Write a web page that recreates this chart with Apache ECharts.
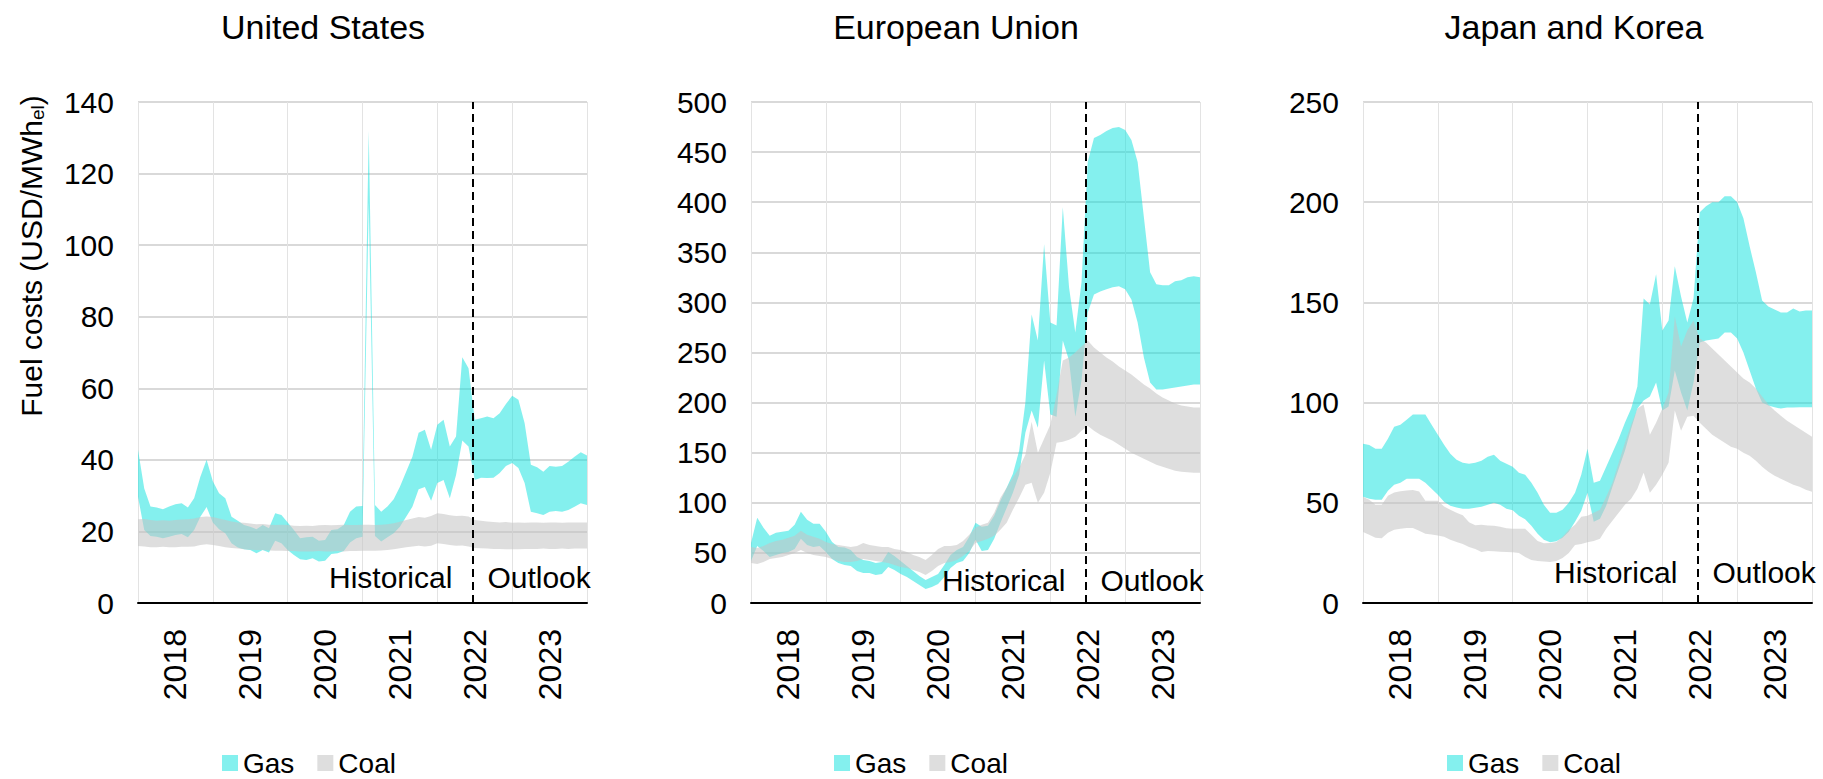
<!DOCTYPE html>
<html>
<head>
<meta charset="utf-8">
<title>Fuel costs</title>
<script src="https://cdn.jsdelivr.net/npm/echarts@6/dist/echarts.min.js"></script>
<style>
html, body { margin: 0; padding: 0; background: #fff; }
#chartDiv { width: 1823px; height: 779px; }
</style>
</head>
<body>
<div id="chartDiv"></div>
<script>
// monthly values, Jan 2018 .. Jan 2024 (73 points), USD/MWh(el)
var years = ['2018', '2019', '2020', '2021', '2022', '2023'];

var usGasHigh = [42.8, 32, 27, 26.7, 26.2, 27, 27.6, 27.9, 26.7, 29.3,
    35.3, 40, 34, 30.7, 29.3, 24.1, 23, 21.8, 21.3, 20.6,
    21.8, 20.9, 25.1, 24.6, 22.5, 20.4, 18.1, 18.4, 18.5, 17.4,
    17.6, 20.4, 20.6, 21.8, 25.5, 27, 27.1, 132, 27.4, 25.5,
    27, 29, 32.5, 36.7, 40.9, 47.6, 48.4, 42.8, 49.8, 51.2,
    43.7, 46.5, 68.7, 65.6, 51.2, 51.6, 52.1, 51.6, 53, 55.6,
    57.9, 56.8, 50.2, 38.6, 37.9, 36.7, 38.3, 38.1, 38.3, 39.5,
    40.9, 42.1, 41.2];
var usGasLow = [29.7, 20.4, 18.7, 18.5, 18.1, 18.5, 19, 19.3, 18.4, 20.4,
    24.1, 26.8, 22.5, 20.6, 19.5, 16.7, 15.5, 15, 14.8, 13.9,
    14.8, 14.1, 17.4, 16.7, 14.8, 13.4, 12.2, 12, 12.5, 11.6,
    11.8, 13.7, 13.9, 14.5, 16.9, 18.1, 18.5, 112, 18.7, 17.2,
    18.4, 19.5, 21.3, 24.1, 26.9, 31.8, 32.4, 28.6, 33.5, 34.4,
    29.3, 35.8, 45.4, 43.7, 34.4, 35, 34.9, 35, 36.3, 38.3,
    39.1, 37.7, 33.5, 25.5, 25.1, 24.6, 25.5, 25.7, 25.5, 26,
    26.9, 27.9, 27.4];
var usCoalHigh = [23.4, 23.5, 23.2, 23.0, 23.1, 23.0, 23.2, 23.3, 23.4, 23.6,
    24.0, 24.2, 24.0, 23.6, 23.2, 22.8, 22.5, 22.4, 22.2, 22.0,
    22.1, 21.9, 21.8, 21.9, 21.8, 21.6, 21.5, 21.6, 21.5, 21.7,
    21.8, 21.7, 21.8, 21.9, 21.8, 21.8, 21.9, 21.9, 21.8, 21.9,
    22.0, 22.3, 22.7, 23.2, 23.6, 24.0, 23.8, 24.3, 25.1, 24.9,
    24.5, 24.3, 24.4, 24.2, 23.2, 23.0, 22.8, 22.6, 22.5, 22.6,
    22.4, 22.5, 22.4, 22.5, 22.5, 22.4, 22.5, 22.5, 22.4, 22.5,
    22.5, 22.5, 22.5];
var usCoalLow = [15.9, 15.8, 15.6, 15.6, 15.7, 15.6, 15.6, 15.7, 15.7, 15.8,
    16.2, 16.4, 16.2, 15.9, 15.6, 15.4, 15.2, 15.0, 14.9, 14.8,
    14.8, 14.7, 14.6, 14.6, 14.5, 14.5, 14.4, 14.4, 14.4, 14.5,
    14.4, 14.4, 14.5, 14.4, 14.5, 14.5, 14.6, 14.6, 14.6, 14.7,
    14.8, 15.0, 15.3, 15.6, 15.8, 16.0, 15.8, 16.0, 16.7, 16.5,
    16.2, 16.0, 16.1, 15.8, 15.4, 15.3, 15.2, 15.1, 15.1, 15.0,
    15.0, 15.0, 15.1, 15.1, 15.1, 15.2, 15.1, 15.1, 15.2, 15.1,
    15.2, 15.2, 15.2];

var euGasHigh = [60, 85, 75, 67, 70, 71, 72, 78, 91, 83,
    79, 79, 71, 61, 56, 55.5, 53, 46, 43, 42,
    40, 41, 51, 47, 42, 37, 32, 27, 23, 26,
    29, 38, 48, 53, 56, 66, 80, 76, 77, 87,
    102, 115, 129, 152, 200, 288, 262, 358, 280, 277,
    395, 315, 270, 320, 440, 464, 467, 471, 474, 475,
    472, 462, 440, 385, 330, 318, 317, 317, 321, 322,
    325, 326, 325];
var euGasLow = [42, 57, 52, 46, 48, 50, 51, 54, 64, 58,
    56, 57, 51, 44, 40, 38, 37, 32, 30, 30,
    28, 29, 36, 33, 29, 26, 22, 18, 14, 16,
    19, 26, 35, 40, 42, 50, 63, 52, 53, 64,
    80, 95, 110, 128, 170, 192, 175, 242, 188, 186,
    262, 242, 186, 222, 290, 308, 311, 313, 315, 316,
    313, 303, 280, 245, 220, 213, 213, 214, 215, 216,
    217, 218, 218];
var euCoalHigh = [56, 55, 57, 60, 62, 63, 65, 67, 72, 68,
    66, 64, 61, 59, 58, 57, 56, 57, 60, 58,
    57, 56, 56, 54, 53, 51, 48, 46, 43, 48,
    54, 57, 57, 58, 62, 68, 75, 78, 80, 90,
    105, 115, 125, 135, 148, 181, 150, 164, 178, 208,
    242, 245, 250, 256, 262, 255, 250, 245, 241, 236,
    232, 228, 223, 218, 214, 209, 205, 202, 199, 197,
    196, 195, 195];
var euCoalLow = [40, 39, 41, 44, 45, 46, 48, 50, 53, 50,
    48, 47, 46, 44, 42, 41, 41, 42, 44, 43,
    42, 41, 40, 38, 36, 35, 33, 31, 28, 32,
    37, 40, 41, 43, 47, 52, 60, 62, 64, 67,
    73, 80, 93, 105, 118, 120, 100, 110, 130, 160,
    161, 163, 166, 172, 177, 172, 168, 165, 162, 158,
    154, 150, 147, 144, 141, 138, 136, 134, 132, 131,
    130.5, 130, 130];

var jkGasHigh = [79.5, 78.8, 77, 77, 82, 88, 89, 91.5, 94, 94,
    94, 89, 84, 79, 74.5, 71.5, 70, 69.5, 70, 71,
    73, 74, 71, 69.5, 68, 65, 64, 60, 55, 49,
    45, 45, 46.5, 50, 55, 64, 77, 60, 61, 68,
    75, 82, 90, 97, 108, 152, 149, 164, 136, 141,
    168, 153, 140, 152, 195, 198, 200, 200, 203, 203,
    200, 192, 178, 165, 151, 148, 146.5, 145, 145, 147,
    145.5, 146, 146];
var jkGasLow = [53, 52, 51.5, 51.5, 56, 59, 60, 62, 62, 62,
    60, 57, 54, 50.5, 48.5, 47.7, 47, 47, 47.5, 48,
    49, 50, 49, 47, 46.3, 43.5, 41.8, 38.5, 34.5, 31.5,
    30.3, 30.8, 32.5, 35.5, 40.5, 46, 55, 40.5, 42, 48.5,
    58, 67, 76, 87, 97, 101, 103, 110, 96, 98,
    116, 105, 96, 110, 130, 131, 131.5, 132, 135, 135,
    132, 125, 116, 107, 100, 98.5, 97.7, 97, 97.5, 97.5,
    97.7, 97.7, 97.7];
var jkCoalHigh = [53, 51.5, 49, 49, 53.5, 55.2, 55.8, 56.2, 56.4, 55.6,
    51, 51, 51, 48.2, 46.5, 45, 43.8, 40.3, 38.8, 39,
    38.7, 38.5, 38, 37.3, 37, 37, 37, 34, 31, 29.8,
    30, 30.5, 33, 36.5, 39, 43, 43.5, 45, 46.5, 53,
    60, 70, 80, 89, 97, 99, 84, 90, 97, 105,
    143, 128, 136, 141, 132, 130, 127, 124, 121, 118,
    115, 112, 110, 107, 103, 99, 96, 93.5, 91, 89,
    87, 85, 83];
var jkCoalLow = [35.4, 34, 32.5, 32.3, 35, 36.5, 37, 37.4, 37.4, 36,
    34.5, 34.2, 33.7, 33, 31.5, 30.5, 29.5, 28, 27, 25.5,
    26, 25.8, 25.6, 25.5, 25.3, 25, 23, 21.5, 21, 20.7,
    20.5, 21, 22.5, 25, 29, 29.5, 30.3, 31, 32, 37,
    41, 45, 49, 52, 57, 65, 55, 59, 64, 70,
    96, 86, 93, 93.5, 90, 87, 84, 82, 80, 78,
    77, 75, 73.5, 71, 68, 65.5, 63.5, 62, 60.5, 59,
    58, 56.5, 55.5];

// month position (0 = Jan 2018) where the outlook starts
var outlookStart = 53.7;

var FONT = '"Liberation Sans", Arial, Helvetica, sans-serif';
var GAS = 'rgba(9,225,221,0.5)';
var COAL = 'rgba(196,196,196,0.56)';

var panels = [
    {title: 'United States', titleX: 323, left: 138, max: 140, step: 20,
        gas: [usGasLow, usGasHigh], coal: [usCoalLow, usCoalHigh], legendLeft: 217, textY: 0.05},
    {title: 'European Union', titleX: 956, left: 751, max: 500, step: 50,
        gas: [euGasLow, euGasHigh], coal: [euCoalLow, euCoalHigh], legendLeft: 829, textY: 0.045},
    {title: 'Japan and Korea', titleX: 1574, left: 1363, max: 250, step: 50,
        gas: [jkGasLow, jkGasHigh], coal: [jkCoalLow, jkCoalHigh], legendLeft: 1442, textY: 0.06}
];

// [value, month] rows; encode puts the month on x so the stack adds up the values
function rows(arr) {
    return arr.map(function (v, i) { return [v, i]; });
}
function spread(lo, hi) {
    return hi.map(function (v, i) { return [+(v - lo[i]).toFixed(2), i]; });
}

var chart = echarts.init(document.getElementById('chartDiv'), null, {renderer: 'svg'});

var grid = [], xAxis = [], yAxis = [], series = [], legend = [], graphic = [];

panels.forEach(function (p, k) {
    grid.push({left: p.left, top: 102, width: 449, height: 501});
    xAxis.push({
        type: 'category', gridIndex: k, data: years, boundaryGap: true,
        axisLine: {lineStyle: {color: '#000', width: 2}},
        axisTick: {interval: 0, length: 10, lineStyle: {color: '#000', width: 2}},
        axisLabel: {interval: 0, rotate: 90, margin: 26, fontSize: 32, color: '#000', fontFamily: FONT},
        splitLine: {show: true, interval: 0, lineStyle: {color: '#e3e3e3', width: 1}}
    });
    xAxis.push({type: 'value', gridIndex: k, min: 0, max: 72, show: false});
    yAxis.push({
        type: 'value', gridIndex: k, min: 0, max: p.max, interval: p.step,
        axisLine: {show: false}, axisTick: {show: false},
        axisLabel: {margin: 24, fontSize: 30, color: '#000', fontFamily: FONT},
        splitLine: {lineStyle: {color: '#d9d9d9', width: 2}}
    });

    var common = {
        type: 'line', xAxisIndex: 2 * k + 1, yAxisIndex: k,
        encode: {x: 1, y: 0},
        symbol: 'none', silent: true, lineStyle: {width: 0, opacity: 0}
    };
    series.push(Object.assign({}, common, {
        name: 'gas base ' + k, stack: 'gas' + k, data: rows(p.gas[0]),
        markLine: {
            silent: true, symbol: ['none', 'none'], label: {show: false},
            lineStyle: {color: '#000', width: 2, type: [8, 5]},
            data: [{xAxis: outlookStart}]
        },
        markPoint: {
            silent: true, symbol: 'rect', symbolSize: 1,
            itemStyle: {color: 'rgba(0,0,0,0)'},
            label: {show: true, fontSize: 30, color: '#000', fontFamily: FONT},
            data: [
                {coord: [outlookStart, p.max * p.textY], label: {position: 'left', distance: 20, formatter: 'Historical'}},
                {coord: [outlookStart, p.max * p.textY], label: {position: 'right', distance: 14, formatter: 'Outlook'}}
            ]
        }
    }));
    series.push(Object.assign({}, common, {
        name: 'Gas', stack: 'gas' + k, data: spread(p.gas[0], p.gas[1]),
        itemStyle: {color: GAS}, areaStyle: {color: GAS, opacity: 1}
    }));
    series.push(Object.assign({}, common, {
        name: 'coal base ' + k, stack: 'coal' + k, data: rows(p.coal[0])
    }));
    series.push(Object.assign({}, common, {
        name: 'Coal', stack: 'coal' + k, data: spread(p.coal[0], p.coal[1]),
        itemStyle: {color: COAL}, areaStyle: {color: COAL, opacity: 1}
    }));

    legend.push({
        left: p.legendLeft, top: 744, icon: 'rect', itemWidth: 16, itemHeight: 16, itemGap: 23,
        selectedMode: false,
        textStyle: {fontSize: 28, color: '#000', fontFamily: FONT},
        itemStyle: {borderWidth: 0},
        data: [
            {name: 'Gas', itemStyle: {color: '#84f0ee'}},
            {name: 'Coal', itemStyle: {color: '#dedede'}}
        ]
    });

    graphic.push({
        type: 'text', x: p.titleX, y: 27,
        style: {text: p.title, fontSize: 34, fontFamily: FONT, fill: '#000', align: 'center', verticalAlign: 'middle'}
    });
});

graphic.push({
    type: 'text', x: 31, y: 256, rotation: Math.PI / 2,
    style: {
        text: 'Fuel costs (USD/MWh{s|el})', fontSize: 30, fontFamily: FONT, fill: '#000',
        align: 'center', verticalAlign: 'middle',
        rich: {s: {fontSize: 19, fontFamily: FONT, fill: '#000', verticalAlign: 'bottom', padding: [12, 0, 0, 0]}}
    }
});

chart.setOption({
    animation: false,
    backgroundColor: '#fff',
    grid: grid,
    xAxis: xAxis,
    yAxis: yAxis,
    legend: legend,
    graphic: graphic,
    series: series
});
window.onresize = chart.resize;
</script>
</body>
</html>
